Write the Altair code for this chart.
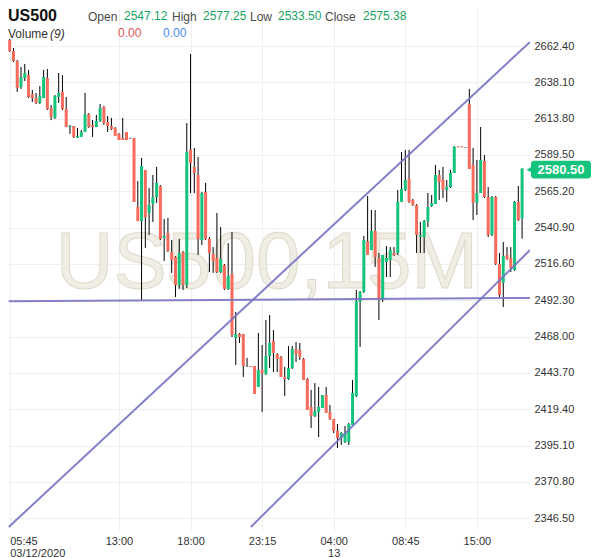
import json
import altair as alt
import pandas as pd

# ---------------- data ----------------
opens = [
    2666.4, 2659.1, 2652.4, 2635.0, 2641.0, 2643.0, 2630.3, 2627.6, 2624.3, 2627.6,
    2641.0, 2621.0, 2614.3, 2628.3, 2631.7, 2620.3, 2608.2, 2608.9, 2601.2, 2601.6,
    2604.9, 2616.9, 2609.6, 2608.2, 2612.3, 2621.6, 2611.6, 2608.9, 2607.6, 2603.6,
    2600.9, 2604.9, 2600.9, 2600.9, 2554.7, 2545.3, 2579.5, 2550.7, 2556.7, 2561.4,
    2568.8, 2534.0, 2537.3, 2524.6, 2521.3, 2502.5, 2524.6, 2502.5, 2592.9, 2581.5,
    2576.1, 2532.6, 2564.8, 2533.3, 2523.3, 2520.6, 2511.2, 2515.9, 2499.9, 2509.9,
    2467.1, 2469.8, 2469.8, 2448.3, 2448.3, 2448.3, 2434.3, 2445.7, 2443.0, 2455.0,
    2465.1, 2456.4, 2454.4, 2441.0, 2439.6, 2447.0, 2459.7, 2459.0, 2453.0, 2439.6,
    2420.9, 2414.9, 2417.6, 2420.2, 2428.9, 2417.6, 2412.9, 2404.9, 2400.2, 2397.5,
    2397.5, 2408.9, 2428.3, 2491.2, 2497.9, 2531.9, 2525.9, 2538.7, 2520.6, 2492.5,
    2517.9, 2519.3, 2523.9, 2523.9, 2558.1, 2566.1, 2573.5, 2559.4, 2556.1, 2535.0,
    2534.6, 2545.3, 2555.4, 2556.7, 2576.1, 2572.8, 2566.1, 2568.1, 2577.5, 2595.2,
    2595.2, 2594.5, 2623.6, 2582.8, 2557.4, 2564.1, 2585.5, 2561.4, 2536.0, 2561.4,
    2516.6, 2503.9, 2522.6, 2520.6, 2512.6, 2558.1, 2547.1,
]
closes = [
    2659.1, 2652.4, 2634.3, 2641.7, 2644.4, 2628.3, 2627.6, 2624.3, 2629.0, 2641.7,
    2620.3, 2614.9, 2629.0, 2631.0, 2620.3, 2608.2, 2608.9, 2601.6, 2602.2, 2604.9,
    2616.9, 2608.2, 2608.2, 2612.3, 2621.0, 2610.9, 2608.9, 2606.9, 2602.2, 2599.5,
    2599.5, 2599.5, 2600.9, 2558.1, 2545.3, 2582.1, 2548.0, 2556.1, 2561.4, 2570.8,
    2533.3, 2535.3, 2525.3, 2519.3, 2502.5, 2523.9, 2502.5, 2591.5, 2584.1, 2577.5,
    2533.3, 2564.1, 2533.3, 2523.9, 2518.6, 2511.2, 2519.9, 2499.9, 2508.6, 2469.1,
    2469.8, 2467.7, 2448.3, 2448.3, 2447.7, 2429.6, 2445.7, 2443.7, 2455.0, 2463.7,
    2457.0, 2453.0, 2441.0, 2439.6, 2447.0, 2459.7, 2456.4, 2454.4, 2439.0, 2418.9,
    2414.9, 2418.2, 2420.9, 2428.9, 2416.9, 2412.9, 2404.9, 2400.2, 2403.5, 2403.5,
    2409.5, 2430.3, 2491.8, 2497.9, 2532.6, 2522.6, 2538.7, 2521.3, 2492.5, 2522.6,
    2520.6, 2525.9, 2522.6, 2558.1, 2566.8, 2572.8, 2558.1, 2556.1, 2536.0, 2536.0,
    2545.3, 2554.7, 2557.4, 2576.1, 2571.4, 2566.1, 2568.1, 2577.5, 2594.9, 2594.7,
    2594.7, 2594.5, 2580.1, 2557.4, 2564.1, 2586.2, 2561.4, 2536.0, 2561.4, 2516.6,
    2495.8, 2521.9, 2519.9, 2513.9, 2558.1, 2546.0, 2580.5,
]
highs = [
    2667.1, 2661.1, 2653.1, 2648.4, 2650.4, 2646.4, 2633.0, 2631.0, 2635.7, 2646.4,
    2647.0, 2623.0, 2629.6, 2644.4, 2643.0, 2628.3, 2609.6, 2608.9, 2607.6, 2606.2,
    2631.0, 2617.6, 2612.9, 2616.3, 2623.6, 2622.3, 2615.6, 2614.3, 2608.2, 2604.2,
    2614.3, 2604.9, 2600.9, 2600.9, 2572.1, 2587.5, 2579.5, 2567.4, 2576.1, 2581.5,
    2569.4, 2546.7, 2547.4, 2532.6, 2521.9, 2533.3, 2525.3, 2610.9, 2657.1, 2594.2,
    2588.2, 2564.8, 2570.8, 2534.6, 2527.9, 2550.7, 2541.3, 2516.6, 2530.6, 2538.0,
    2484.5, 2470.4, 2469.8, 2453.7, 2448.3, 2448.3, 2470.4, 2462.4, 2479.1, 2482.5,
    2472.4, 2457.0, 2455.0, 2447.7, 2461.7, 2461.7, 2464.4, 2463.7, 2453.7, 2440.3,
    2432.3, 2436.9, 2434.3, 2428.9, 2434.3, 2422.3, 2412.9, 2409.5, 2404.2, 2408.2,
    2410.2, 2439.0, 2499.2, 2498.5, 2535.3, 2562.1, 2552.7, 2552.7, 2523.9, 2522.6,
    2528.6, 2527.9, 2527.9, 2566.1, 2591.5, 2592.9, 2592.9, 2560.1, 2556.7, 2544.7,
    2546.0, 2564.1, 2562.7, 2582.8, 2579.5, 2581.5, 2572.8, 2579.5, 2595.5, 2595.2,
    2595.2, 2594.5, 2633.7, 2594.2, 2586.2, 2608.2, 2589.5, 2568.1, 2562.1, 2562.1,
    2523.9, 2531.3, 2527.9, 2527.9, 2558.7, 2568.8, 2580.5,
]
lows = [
    2658.4, 2651.7, 2631.7, 2633.7, 2639.0, 2627.6, 2625.0, 2623.6, 2623.6, 2627.6,
    2619.6, 2612.9, 2613.6, 2624.3, 2619.6, 2608.2, 2603.6, 2600.9, 2600.9, 2601.6,
    2604.9, 2607.6, 2601.6, 2608.2, 2611.6, 2609.6, 2604.9, 2606.2, 2602.2, 2599.5,
    2599.5, 2599.5, 2600.4, 2558.1, 2545.3, 2492.5, 2527.3, 2536.0, 2544.7, 2557.4,
    2532.6, 2518.6, 2524.6, 2510.6, 2494.5, 2499.9, 2499.2, 2500.5, 2564.1, 2564.1,
    2522.6, 2529.3, 2532.6, 2511.2, 2510.6, 2510.6, 2510.6, 2499.2, 2499.2, 2467.7,
    2449.0, 2463.7, 2441.0, 2447.7, 2447.7, 2429.6, 2434.3, 2417.6, 2442.3, 2447.0,
    2444.3, 2444.3, 2441.0, 2428.3, 2439.0, 2446.3, 2451.0, 2452.4, 2439.0, 2418.9,
    2406.9, 2414.2, 2400.8, 2420.2, 2416.9, 2412.2, 2403.5, 2393.5, 2395.5, 2396.8,
    2395.5, 2408.9, 2427.6, 2461.1, 2497.2, 2522.6, 2525.9, 2514.6, 2479.1, 2491.2,
    2507.9, 2507.9, 2521.9, 2522.6, 2558.1, 2565.4, 2557.4, 2555.4, 2523.9, 2523.9,
    2523.9, 2541.3, 2554.7, 2556.7, 2559.4, 2560.7, 2558.1, 2567.4, 2577.5, 2594.7,
    2594.7, 2594.2, 2580.1, 2546.0, 2549.4, 2564.1, 2560.7, 2534.6, 2535.3, 2515.9,
    2494.5, 2487.8, 2519.3, 2511.2, 2511.9, 2545.3, 2533.5,
]

# x-axis ticks (bar index -> time label, optional second line)
tick_index = [0, 29, 48, 67, 86, 105, 124]
tick_time = ["05:45", "13:00", "18:00", "23:15", "04:00", "08:45", "15:00"]
tick_date = ["03/12/2020", "", "", "", "13", "", ""]

# y-axis tick values
price_ticks = [2346.50, 2370.80, 2395.10, 2419.40, 2443.70, 2468.00, 2492.30,
               2516.60, 2540.90, 2565.20, 2589.50, 2613.80, 2638.10, 2662.40]

# drawn trend lines: (name, bar index, price) endpoints
line_names = ["upper", "upper", "lower", "lower", "flat", "flat"]
line_index = [-0.26, 138.1, 64.0, 138.1, -0.26, 138.1]
line_price = [2340.6, 2665.1, 2340.6, 2525.9, 2491.6, 2493.9]

last_price = 2580.50
header_symbol = "US500"
header_labels = ["Open", "High", "Low", "Close"]
header_values = ["2547.12", "2577.25", "2533.50", "2575.38"]
volume_label = "Volume"
volume_param = "(9)"
volume_values = ["0.00", "0.00"]
watermark = "US500,15M"

# ---------------- styling ----------------
FONT = "Liberation Sans"
GREEN = "#14c47c"
RED = "#f76b5c"
GRAY = "#8c8c8c"
LINE_COLOR = "#7672c3"
TEXT_GREEN = "#16a35e"

W, H = 522, 522
X_DOMAIN = [-0.45, 138.1]
Y_DOMAIN = [2338.6, 2687.85]

df = pd.DataFrame({"i": list(range(len(opens))), "open": opens, "high": highs,
                   "low": lows, "close": closes})
df["dir"] = ["up" if c > o else ("down" if c < o else "flat")
             for o, c in zip(opens, closes)]

lines_df = pd.DataFrame({"name": line_names, "i": line_index, "p": line_price})

xs = alt.Scale(domain=X_DOMAIN, nice=False, zero=False, padding=0)
ys = alt.Scale(domain=Y_DOMAIN, nice=False, zero=False, padding=0)

expr = ""
for v, t, d in zip(tick_index, tick_time, tick_date):
    lab = json.dumps([t, d]) if d else json.dumps(t)
    expr += f"datum.value == {v} ? {lab} : "
expr += "''"

x_axis = alt.Axis(values=tick_index, labelExpr=expr, title=None, grid=True,
                  gridColor="#efefef", ticks=False, domain=False,
                  labelFont=FONT, labelFontSize=11, labelColor="#333333",
                  labelPadding=5, labelBaseline="top", labelLineHeight=12,
                  labelFlush=10, labelOverlap=False)
y_axis = alt.Axis(orient="right", values=price_ticks, format=".2f", title=None,
                  grid=True, gridColor="#efefef", ticks=False, domain=False,
                  labelFont=FONT, labelFontSize=11, labelColor="#333333",
                  labelPadding=4, labelOverlap=False)

color = alt.Color("dir:N", legend=None,
                  scale=alt.Scale(domain=["up", "down", "flat"], range=[GREEN, RED, GRAY]))

base = alt.Chart(df)
wicks = base.mark_rule(color="#000000", strokeWidth=1).encode(
    x=alt.X("i:Q", scale=xs, axis=x_axis),
    y=alt.Y("low:Q", scale=ys, axis=y_axis),
    y2="high:Q",
)
bodies = base.mark_bar(size=3).encode(
    x=alt.X("i:Q", scale=xs),
    y=alt.Y("open:Q", scale=ys),
    y2="close:Q",
    color=color,
)
flats = base.transform_filter("datum.dir == 'flat'").mark_tick(
    orient="horizontal", size=3, thickness=1, color=GRAY
).encode(x=alt.X("i:Q", scale=xs), y=alt.Y("close:Q", scale=ys))

trend = alt.Chart(lines_df).mark_line(clip=True, strokeWidth=2, color=LINE_COLOR,
                                      opacity=0.9).encode(
    x=alt.X("i:Q", scale=xs),
    y=alt.Y("p:Q", scale=ys),
    detail="name:N",
)

one = pd.DataFrame({"t": [watermark]})
wm = alt.Chart(one).mark_text(font=FONT, fontSize=80, align="center",
                              baseline="alphabetic", fill="#f0ede4",
                              stroke="#dedac9", strokeWidth=1).encode(
    x=alt.value(259), y=alt.value(280), text="t:N")


def label(text, x, y, color, size=12, weight="normal", style="normal"):
    return alt.Chart(pd.DataFrame({"t": [text]})).mark_text(
        font=FONT, fontSize=size, fontWeight=weight, fontStyle=style,
        align="left", baseline="alphabetic", color=color,
    ).encode(x=alt.value(x), y=alt.value(y), text="t:N")


header = [label(header_symbol, 0, 13, "#111111", size=16, weight="bold")]
lab_x = [80, 164, 242, 317]
val_x = [116, 195, 270, 355]
for lx, vx, l, v in zip(lab_x, val_x, header_labels, header_values):
    header.append(label(l, lx, 13, "#4a4a4a"))
    header.append(label(v, vx, 12, TEXT_GREEN))
header.append(label(volume_label, 0, 30, "#333333"))
header.append(label(volume_param, 42, 30, "#333333", style="italic"))
header.append(label(volume_values[0], 110, 29, "#e05555"))
header.append(label(volume_values[1], 155, 29, "#4a8cf0"))

tag_df = pd.DataFrame({"p": [last_price]})
tag_rect = alt.Chart(tag_df).mark_rect(color=GREEN, cornerRadius=3).encode(
    x=alt.value(523), x2=alt.value(583),
    y=alt.datum(2585.6), y2=alt.datum(2573.8))
tag_arrow = alt.Chart(tag_df).mark_point(shape="triangle-left", filled=True,
                                         size=30, color=GREEN, opacity=1).encode(
    x=alt.value(521), y=alt.datum(2579.7))
tag_text = alt.Chart(tag_df).mark_text(font=FONT, fontSize=13, fontWeight="bold",
                                       color="white", align="center",
                                       baseline="middle").encode(
    x=alt.value(553), y=alt.datum(2579.7), text=alt.Text("p:Q", format=".2f"))

chart = alt.layer(wm, wicks, bodies, flats, trend, *header, tag_rect, tag_arrow,
                  tag_text).properties(
    width=W, height=H,
    autosize=alt.AutoSizeParams(type="none"),
    padding={"left": 0, "top": 0, "right": 61, "bottom": 30},
).configure_view(stroke=None)

chart.save("out.html", embed_options={"renderer": "svg", "actions": False})
